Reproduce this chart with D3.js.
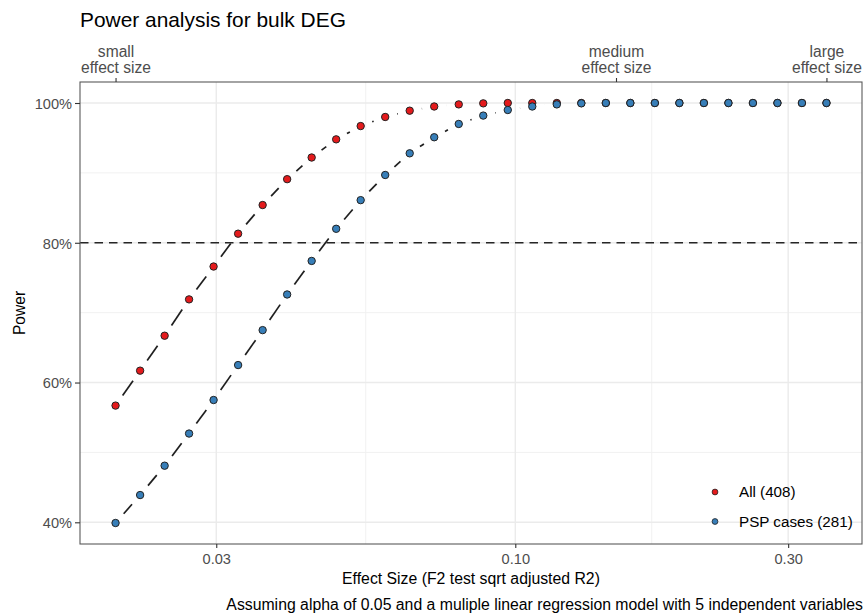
<!DOCTYPE html>
<html>
<head>
<meta charset="utf-8">
<script src="https://cdn.jsdelivr.net/npm/d3@7"></script>
<style>
  html, body { margin: 0; padding: 0; background: #fff; }
  svg { display: block; font-family: "Liberation Sans", Arial, sans-serif; }
</style>
</head>
<body>
<div id="chart"></div>
<script>
// Effect sizes tested (log-spaced from 0.02 to 0.35)
const effectSize = [0.02000, 0.02208, 0.02437, 0.02689, 0.02968, 0.03276, 0.03616, 0.03991,
  0.04405, 0.04862, 0.05366, 0.05923, 0.06537, 0.07215, 0.07964, 0.08790, 0.09702, 0.10708,
  0.11819, 0.13045, 0.14398, 0.15892, 0.17540, 0.19360, 0.21368, 0.23585, 0.26031, 0.28731,
  0.31711, 0.35001];

// Power for each cohort
const powerAll = [0.567, 0.617, 0.667, 0.719, 0.766, 0.813, 0.854, 0.891, 0.922, 0.948,
  0.967, 0.980, 0.989, 0.995, 0.998, 0.9995, 1, 1, 1, 1, 1, 1, 1, 1, 1, 1, 1, 1, 1, 1];
const powerPSP = [0.399, 0.439, 0.481, 0.527, 0.575, 0.625, 0.675, 0.726, 0.774, 0.820,
  0.861, 0.897, 0.928, 0.951, 0.970, 0.982, 0.990, 0.995, 0.998, 0.9995, 1, 1, 1, 1, 1,
  1, 1, 1, 1, 1];

const seriesNames = ["All (408)", "PSP cases (281)"];
const seriesColors = ["#E41A1C", "#377EB8"];

const xTicks = [0.03, 0.1, 0.3];
const xMinorTicks = [0.05477, 0.17321];
const yTicks = [0.4, 0.6, 0.8, 1.0];
const yMinorTicks = [0.5, 0.7, 0.9];
const topTicks = [0.02, 0.15, 0.35];
const topLabels = [["small", "effect size"], ["medium", "effect size"], ["large", "effect size"]];
const powerThreshold = 0.8;

const W = 865, H = 614;
const margin = { left: 80, right: 3, top: 82, bottom: 70 };
const pw = W - margin.left - margin.right;
const ph = H - margin.top - margin.bottom;

const svg = d3.select("#chart").append("svg").attr("width", W).attr("height", H);

// log x with 5% padding on each side of the data range
const lx0 = Math.log10(d3.min(effectSize)), lx1 = Math.log10(d3.max(effectSize));
const padX = (lx1 - lx0) * 0.05;
const x = d3.scaleLog()
  .domain([Math.pow(10, lx0 - padX), Math.pow(10, lx1 + padX)])
  .range([0, pw]);

const yMin = d3.min(powerPSP.concat(powerAll)), yMax = 1;
const padY = (yMax - yMin) * 0.05;
const y = d3.scaleLinear().domain([yMin - padY, yMax + padY]).range([ph, 0]);

const g = svg.append("g").attr("transform", `translate(${margin.left},${margin.top})`);

// grid
g.append("g").selectAll("line").data(yMinorTicks).join("line")
  .attr("x1", 0).attr("x2", pw).attr("y1", d => y(d)).attr("y2", d => y(d))
  .attr("stroke", "#f1f1f1").attr("stroke-width", 1);
g.append("g").selectAll("line").data(xMinorTicks).join("line")
  .attr("y1", 0).attr("y2", ph).attr("x1", d => x(d)).attr("x2", d => x(d))
  .attr("stroke", "#f1f1f1").attr("stroke-width", 1);
g.append("g").selectAll("line").data(yTicks).join("line")
  .attr("x1", 0).attr("x2", pw).attr("y1", d => y(d)).attr("y2", d => y(d))
  .attr("stroke", "#ebebeb").attr("stroke-width", 1.4);
g.append("g").selectAll("line").data(xTicks).join("line")
  .attr("y1", 0).attr("y2", ph).attr("x1", d => x(d)).attr("x2", d => x(d))
  .attr("stroke", "#ebebeb").attr("stroke-width", 1.4);

// 80% power reference
g.append("line")
  .attr("x1", 0).attr("x2", pw).attr("y1", y(powerThreshold)).attr("y2", y(powerThreshold))
  .attr("stroke", "#262626").attr("stroke-width", 1.6).attr("stroke-dasharray", "8.5,6");

// connecting segments, trimmed short of each point
const series = [powerAll, powerPSP];
const gap = 12.3;
series.forEach(vals => {
  const pts = effectSize.map((e, i) => [x(e), y(vals[i])]);
  const segs = [];
  for (let i = 0; i < pts.length - 1; i++) {
    const [ax, ay] = pts[i], [bx, by] = pts[i + 1];
    const len = Math.hypot(bx - ax, by - ay);
    if (len > 2 * gap) {
      const ux = (bx - ax) / len, uy = (by - ay) / len;
      segs.push([ax + ux * gap, ay + uy * gap, bx - ux * gap, by - uy * gap]);
    }
  }
  g.append("g").selectAll("line").data(segs).join("line")
    .attr("x1", d => d[0]).attr("y1", d => d[1]).attr("x2", d => d[2]).attr("y2", d => d[3])
    .attr("stroke", "#1f1f1f").attr("stroke-width", 1.7);
});

// points
series.forEach((vals, si) => {
  g.append("g").selectAll("circle").data(effectSize).join("circle")
    .attr("cx", d => x(d)).attr("cy", (d, i) => y(vals[i]))
    .attr("r", 3.7)
    .attr("fill", seriesColors[si])
    .attr("stroke", "#222").attr("stroke-width", 1);
});

// panel border
g.append("rect").attr("x", 0).attr("y", 0).attr("width", pw).attr("height", ph)
  .attr("fill", "none").attr("stroke", "#595959").attr("stroke-width", 1.1);

// axes
function styleAxis(sel) {
  sel.select(".domain").remove();
  sel.selectAll(".tick line").attr("stroke", "#333").attr("stroke-width", 1.1);
  sel.selectAll(".tick text").attr("fill", "#4d4d4d").style("font-size", "14.6px")
    .style("font-family", "'Liberation Sans', Arial, sans-serif");
}

const xAxis = g.append("g").attr("transform", `translate(0,${ph})`)
  .call(d3.axisBottom(x).tickValues(xTicks).tickFormat(d3.format(".2f")).tickSize(4).tickPadding(6));
styleAxis(xAxis);

const yAxis = g.append("g")
  .call(d3.axisLeft(y).tickValues(yTicks).tickFormat(d3.format(".0%")).tickSize(5).tickPadding(3));
styleAxis(yAxis);
yAxis.selectAll(".tick text").attr("dy", "0.36em");

const topAxis = g.append("g")
  .call(d3.axisTop(x).tickValues(topTicks).tickSize(4).tickFormat(""));
styleAxis(topAxis);
topAxis.selectAll(".tick").each(function(d, i) {
  const t = d3.select(this).append("text")
    .attr("text-anchor", "middle").attr("fill", "#4d4d4d")
    .style("font-size", "15.6px");
  t.append("tspan").attr("x", 0).attr("y", -25.5).text(topLabels[i][0]);
  t.append("tspan").attr("x", 0).attr("y", -9.5).text(topLabels[i][1]);
});

// titles
svg.append("text").attr("x", margin.left).attr("y", 27)
  .style("font-size", "20.9px").attr("fill", "#000")
  .text("Power analysis for bulk DEG");

svg.append("text").attr("x", margin.left + pw / 2).attr("y", 584)
  .attr("text-anchor", "middle").style("font-size", "15.8px").attr("fill", "#000")
  .text("Effect Size (F2 test sqrt adjusted R2)");

svg.append("text")
  .attr("transform", `translate(25,${margin.top + ph / 2}) rotate(-90)`)
  .attr("text-anchor", "middle").style("font-size", "15.6px").attr("fill", "#000")
  .text("Power");

svg.append("text").attr("x", W - 2).attr("y", 610)
  .attr("text-anchor", "end").style("font-size", "15.8px").attr("fill", "#000")
  .text("Assuming alpha of 0.05 and a muliple linear regression model with 5 independent variables");

// legend
const legend = svg.append("g").attr("transform", "translate(715,492)");
seriesNames.forEach((name, i) => {
  const row = legend.append("g").attr("transform", `translate(0,${i * 29.5})`);
  row.append("circle").attr("r", 2.9).attr("fill", seriesColors[i])
    .attr("stroke", "#222").attr("stroke-width", 0.8);
  row.append("text").attr("x", 24).attr("dy", "0.36em")
    .style("font-size", "15.2px").attr("fill", "#000").text(name);
});
</script>
</body>
</html>
